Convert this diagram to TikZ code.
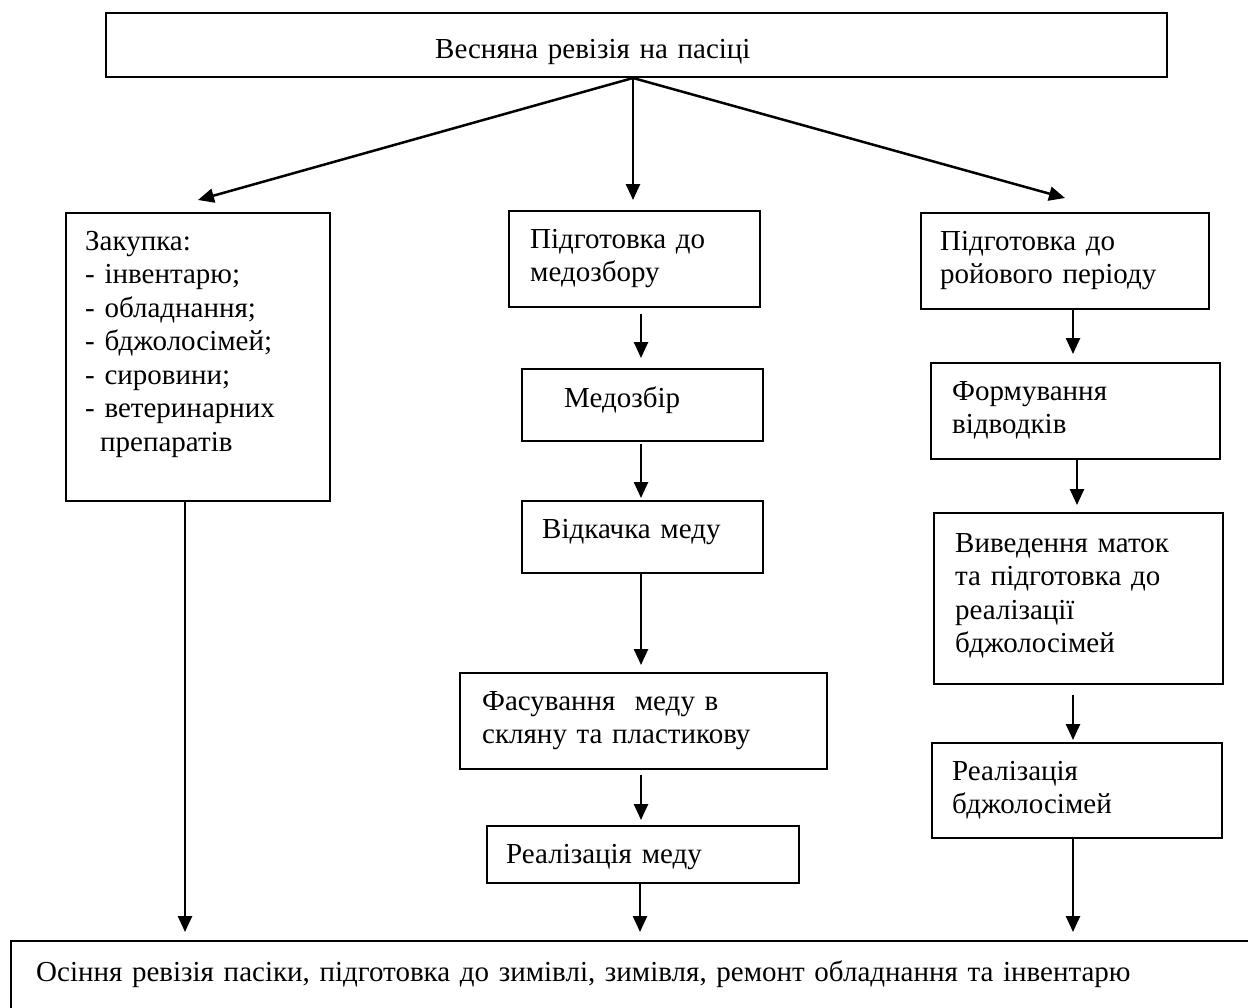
\documentclass[tikz,border=0pt]{standalone}
\usepackage{fontspec}
\setmainfont{Liberation Serif}
\usetikzlibrary{arrows.meta}
\begin{document}
\begin{tikzpicture}[x=1pt,y=-1pt,
  box/.style={draw=black, line width=2pt, rectangle, inner sep=0pt, anchor=north west},
  txt/.style={anchor=base west, inner sep=0pt, text width=#1, align=left,
              font=\fontsize{29}{33.5}\selectfont},
  txt/.default=340pt,
  arr/.style={line width=2.5pt, -{Triangle[length=16pt,width=14pt]}}
]
\useasboundingbox (0,0) rectangle (1248,1007);
\begin{scope}
\clip (0,0) rectangle (1248,1007);
\node[box, minimum width=1260pt, minimum height=100pt] (bot) at (10,940) {};
\end{scope}

% boxes
\node[box, minimum width=1061pt, minimum height=64pt] (top) at (105,12) {};
\node[box, minimum width=264pt, minimum height=288pt] (L1) at (65,212) {};
\node[box, minimum width=251pt, minimum height=96pt] (M1) at (508,210) {};
\node[box, minimum width=241pt, minimum height=72pt] (M2) at (521,368) {};
\node[box, minimum width=241pt, minimum height=72pt] (M3) at (521,500) {};
\node[box, minimum width=367pt, minimum height=96pt] (M4) at (459,672) {};
\node[box, minimum width=312pt, minimum height=57pt] (M5) at (486,825) {};
\node[box, minimum width=288pt, minimum height=96pt] (R1) at (920,212) {};
\node[box, minimum width=289pt, minimum height=96pt] (R2) at (930,362) {};
\node[box, minimum width=289pt, minimum height=171pt] (R3) at (933,512) {};
\node[box, minimum width=290pt, minimum height=95pt] (R4) at (931,742) {};

% texts
\node[txt] (ttop) at (435,58) {Весняна ревізія на пасіці};
\node[txt] (tL1) at (85,250) {Закупка:\\- інвентарю;\\- обладнання;\\- бджолосімей;\\- сировини;\\- ветеринарних\\\hspace*{15pt}препаратів};
\node[txt] (tM1) at (530,248) {Підготовка до\\медозбору};
\node[txt] (tM2) at (564,407) {Медозбір};
\node[txt] (tM3) at (542,538) {Відкачка меду};
\node[txt] (tM4) at (482,710) {Фасування\ \ меду в\\скляну та пластикову};
\node[txt] (tM5) at (506,863) {Реалізація меду};
\node[txt] (tR1) at (940,250) {Підготовка до\\ройового періоду};
\node[txt] (tR2) at (952,400) {Формування\\відводків};
\node[txt] (tR3) at (955,552) {Виведення маток\\та підготовка до\\реалізації\\бджолосімей};
\node[txt] (tR4) at (952,780) {Реалізація\\бджолосімей};
\node[txt=1200pt] (tbot) at (36,981) {Осіння ревізія пасіки, підготовка до зимівлі, зимівля, ремонт обладнання та інвентарю};

% helper coordinates
\coordinate (j) at ([xshift=-3.5pt]top.south);
\coordinate (mx) at (641,0);
\coordinate (rxa) at (1073,0);
\coordinate (rxb) at (1077,0);
\coordinate (lx) at (185,0);
\coordinate (cx) at (640,0);
\coordinate (tL) at ([yshift=12pt]L1.north);
\coordinate (tM) at ([yshift=10pt]M1.north);
\coordinate (tR) at ([yshift=14pt]R1.north);

% arrows from top
\draw[arr] (j) -- (tL);
\draw[arr] (j) -- (j |- tM);
\draw[arr] (j) -- (tR);

% middle column
\draw[arr, shorten <=6pt, shorten >=10pt] (M1.south -| mx) -- (M2.north -| mx);
\draw[arr, shorten <=2pt, shorten >=2pt] (M2.south -| mx) -- (M3.north -| mx);
\draw[arr, shorten >=7pt] (M3.south -| mx) -- (M4.north -| mx);
\draw[arr, shorten <=5pt, shorten >=5pt] (M4.south -| mx) -- (M5.north -| mx);
\draw[arr, shorten >=8pt] (M5.south -| cx) -- (bot.north -| cx);

% right column
\draw[arr, shorten >=8pt] (R1.south -| rxa) -- (R2.north -| rxa);
\draw[arr, shorten >=7pt] (R2.south -| rxb) -- (R3.north -| rxb);
\draw[arr, shorten <=10pt, shorten >=2pt] (R3.south -| rxa) -- (R4.north -| rxa);
\draw[arr, shorten >=8pt] (R4.south -| rxa) -- (bot.north -| rxa);

% left column
\draw[arr, shorten >=8pt] (L1.south -| lx) -- (bot.north -| lx);
\end{tikzpicture}
\end{document}
